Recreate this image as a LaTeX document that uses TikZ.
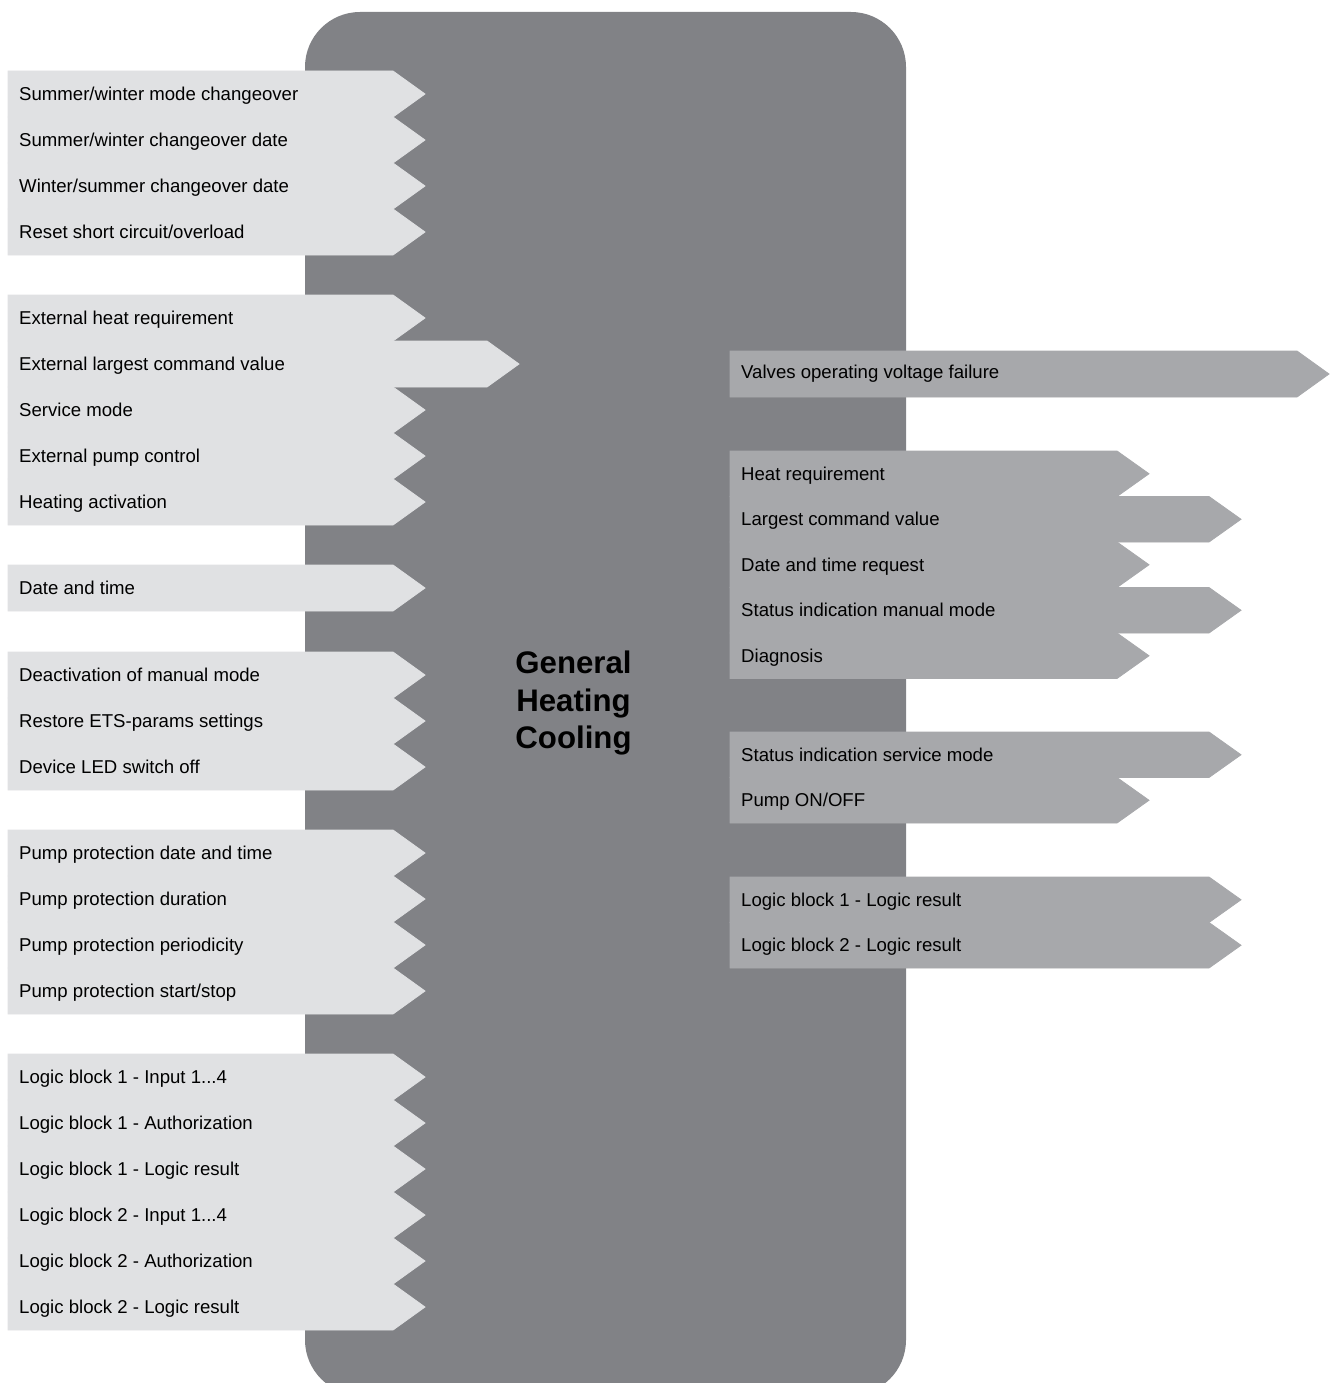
\documentclass[tikz,border=0pt]{standalone}
\usepackage{fontspec}
\setmainfont{Liberation Sans}
\usetikzlibrary{positioning}
\definecolor{hcbody}{HTML}{818286}
\definecolor{hcin}{HTML}{E0E1E3}
\definecolor{hcout}{HTML}{A7A8AB}

\begin{document}
\begin{tikzpicture}[x=1pt,y=-1pt,
  lbl/.style={anchor=west,inner sep=0pt,text height=13pt,text depth=0pt,
              font=\fontsize{18.6}{22}\selectfont},
  title/.style={inner sep=0pt,align=center,
                font=\fontsize{31.2}{37.3}\selectfont\bfseries},
  inrow/.style={fill=hcin,draw=hcin,line width=0.8pt},
  outrow/.style={fill=hcout,draw=hcout,line width=0.8pt}
]
\useasboundingbox (0,0) rectangle (1335,1383);

% ---- Function block ----------------------------------------
\fill[hcbody,rounded corners=55pt] (305,12) rectangle (906,1395);
\node[title] (block) at (573.5,703) {General\\Heating\\Cooling};

% ---- Inputs (left), row height 46 ---------------------------
\foreach \y/\r/\t [count=\i] in {
    71/393/{Summer/winter mode changeover},
    117/393/{Summer/winter changeover date},
    163/393/{Winter/summer changeover date},
    209/393/{Reset short circuit/overload},
    295/393/{External heat requirement},
    341/487/{External largest command value},
    387/393/{Service mode},
    433/393/{External pump control},
    479/393/{Heating activation},
    565/393/{Date and time},
    652/393/{Deactivation of manual mode},
    698/393/{Restore ETS-params settings},
    744/393/{Device LED switch off},
    830/393/{Pump protection date and time},
    876/393/{Pump protection duration},
    922/393/{Pump protection periodicity},
    968/393/{Pump protection start/stop},
    1054/393/{Logic block 1 - Input 1...4},
    1100/393/{Logic block 1 - Authorization},
    1146/393/{Logic block 1 - Logic result},
    1192/393/{Logic block 2 - Input 1...4},
    1238/393/{Logic block 2 - Authorization},
    1284/393/{Logic block 2 - Logic result}}
{
  \path[inrow] (8,\y) -- (\r,\y) -- (\r+32,\y+23) -- (\r,\y+46) -- (8,\y+46) -- cycle;
  \node[lbl] (in\i) at (19,\y+23) {\t};
}

% ---- Outputs (right), row height 45.5 -----------------------
\path[outrow] (730,351) -- (1297,351) -- (1329,374) -- (1297,397) -- (730,397) -- cycle;
\node[lbl] (out0) at (741,372) {Valves operating voltage failure};

\foreach \y/\r/\t [count=\i] in {
    451/1117/{Heat requirement},
    496.5/1209/{Largest command value},
    542/1117/{Date and time request},
    587.5/1209/{Status indication manual mode},
    633/1117/{Diagnosis},
    732/1209/{Status indication service mode},
    777.5/1117/{Pump ON/OFF},
    877/1209/{Logic block 1 - Logic result},
    922.5/1209/{Logic block 2 - Logic result}}
{
  \path[outrow] (730,\y) -- (\r,\y) -- (\r+32,\y+22.75) -- (\r,\y+45.5) -- (730,\y+45.5) -- cycle;
  \node[lbl] (out\i) at (741,\y+22.75) {\t};
}

\end{tikzpicture}
\end{document}
